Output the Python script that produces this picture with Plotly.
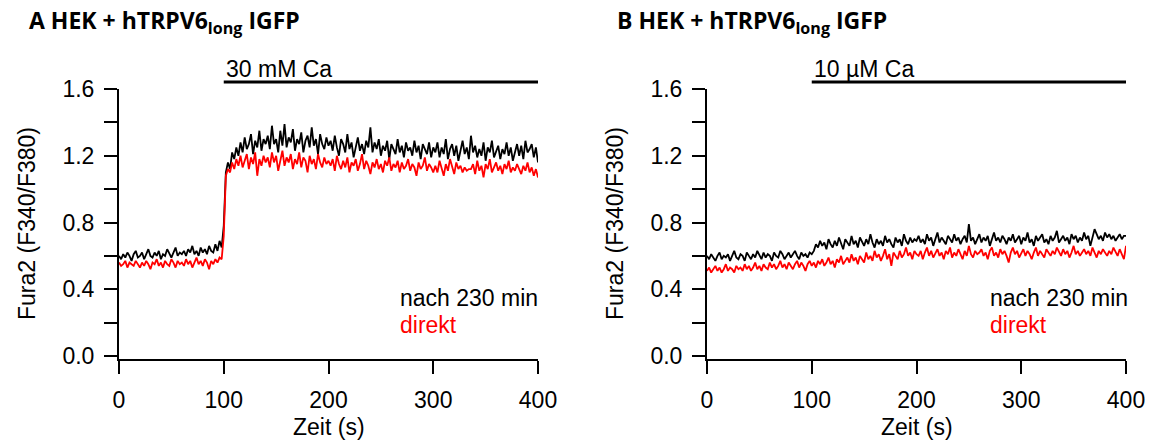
import plotly.graph_objects as go

# ---------------- data ----------------
dt = 2  # s between samples

a_nach = [
    0.60,0.58,0.61,0.59,0.62,0.60,0.57,0.61,0.63,0.59,
    0.60,0.62,0.58,0.61,0.64,0.60,0.59,0.62,0.60,0.63,
    0.58,0.61,0.60,0.64,0.61,0.59,0.62,0.65,0.60,0.62,
    0.61,0.63,0.60,0.64,0.62,0.66,0.61,0.63,0.60,0.65,
    0.62,0.64,0.61,0.66,0.63,0.62,0.67,0.63,0.69,0.65,
    0.78,1.10,1.16,
    1.12,1.22,1.18,1.25,1.20,1.28,1.22,1.31,1.24,1.27,1.33,1.21,1.29,1.25,1.35,1.23,1.30,1.27,
    1.32,1.24,1.38,1.27,1.30,1.22,1.35,1.26,1.39,1.25,
    1.31,1.28,1.36,1.23,1.30,1.27,1.34,1.22,1.29,1.32,
    1.25,1.37,1.26,1.30,1.21,1.33,1.27,1.24,1.31,1.26,
    1.29,1.23,1.32,1.25,1.20,1.30,1.27,1.22,1.33,1.24,
    1.28,1.19,1.26,1.31,1.23,1.27,1.21,1.29,1.25,1.37,
    1.22,1.28,1.24,1.30,1.20,1.26,1.23,1.29,1.18,1.27,
    1.24,1.21,1.30,1.22,1.26,1.19,1.28,1.23,1.25,1.20,
    1.29,1.22,1.26,1.18,1.27,1.24,1.21,1.28,1.19,1.25,
    1.22,1.28,1.19,1.25,1.21,1.30,1.18,1.24,1.27,1.20,
    1.26,1.17,1.23,1.29,1.21,1.25,1.18,1.32,1.22,1.26,
    1.19,1.24,1.20,1.28,1.17,1.25,1.22,1.29,1.19,1.23,
    1.26,1.18,1.24,1.21,1.28,1.20,1.25,1.17,1.23,1.27,
    1.20,1.26,1.18,1.29,1.22,1.24,1.27,1.19,1.25,1.16,
]

a_direkt = [
    0.56,0.54,0.55,0.57,0.53,0.56,0.55,0.54,0.57,0.55,
    0.53,0.56,0.54,0.57,0.55,0.52,0.56,0.55,0.58,0.54,
    0.56,0.53,0.57,0.55,0.54,0.58,0.56,0.53,0.57,0.55,
    0.56,0.54,0.58,0.55,0.57,0.53,0.56,0.59,0.55,0.57,
    0.54,0.58,0.56,0.52,0.57,0.55,0.58,0.56,0.59,0.58,
    0.72,1.08,1.12,
    1.10,1.16,1.12,1.18,1.14,1.20,1.13,1.17,1.21,1.12,1.19,1.15,1.22,1.08,1.18,1.14,1.20,1.16,
    1.19,1.13,1.22,1.16,1.20,1.11,1.18,1.23,1.14,1.19,
    1.16,1.21,1.12,1.18,1.15,1.22,1.13,1.19,1.17,1.10,
    1.20,1.15,1.18,1.12,1.21,1.16,1.13,1.19,1.15,1.17,
    1.14,1.18,1.11,1.20,1.15,1.12,1.17,1.13,1.19,1.10,
    1.16,1.14,1.18,1.11,1.15,1.21,1.12,1.17,1.14,1.09,
    1.16,1.13,1.18,1.12,1.15,1.10,1.17,1.14,1.19,1.11,
    1.15,1.13,1.17,1.10,1.16,1.12,1.14,1.18,1.11,1.15,
    1.13,1.08,1.16,1.12,1.14,1.19,1.11,1.15,1.13,1.10,
    1.14,1.10,1.17,1.12,1.08,1.15,1.11,1.18,1.13,1.09,
    1.16,1.12,1.14,1.10,1.13,1.11,1.12,1.12,1.15,1.09,
    1.17,1.11,1.14,1.07,1.15,1.12,1.18,1.10,1.13,1.16,
    1.11,1.14,1.09,1.15,1.12,1.17,1.10,1.13,1.11,1.15,
    1.12,1.09,1.14,1.11,1.16,1.10,1.13,1.08,1.12,1.07,
]

b_nach = [
    0.60,0.58,0.61,0.59,0.57,0.60,0.62,0.58,0.60,0.59,
    0.61,0.57,0.60,0.63,0.59,0.58,0.61,0.60,0.57,0.62,
    0.60,0.58,0.61,0.59,0.63,0.60,0.58,0.62,0.59,0.61,
    0.60,0.57,0.62,0.60,0.59,0.63,0.61,0.58,0.60,0.62,
    0.59,0.61,0.63,0.60,0.58,0.62,0.60,0.61,0.59,0.62,
    0.61,0.63,0.67,0.65,0.69,0.66,0.68,0.64,0.70,0.67,
    0.65,0.69,0.66,0.71,0.67,0.64,0.70,0.68,0.66,0.72,
    0.67,0.69,0.65,0.71,0.68,0.66,0.70,0.67,0.73,0.68,
    0.65,0.70,0.67,0.69,0.66,0.72,0.68,0.70,0.67,0.65,
    0.71,0.68,0.70,0.66,0.73,0.69,0.67,0.71,0.68,0.70,
    0.69,
    0.72,0.68,0.70,0.67,0.73,0.69,0.71,0.66,0.70,0.74,
    0.68,0.71,0.69,0.67,0.72,0.70,0.68,0.73,0.69,0.71,
    0.67,0.70,0.72,0.68,0.79,0.69,0.71,0.67,0.70,0.73,
    0.68,0.71,0.69,0.72,0.66,0.70,0.74,0.69,0.71,0.68,
    0.72,0.70,0.67,0.71,0.69,0.73,0.68,0.70,0.72,0.67,
    0.71,0.69,0.74,0.68,0.70,0.66,0.72,0.69,0.71,0.73,
    0.68,0.70,0.67,0.72,0.69,0.71,0.75,0.68,0.70,0.72,
    0.69,0.71,0.67,0.73,0.70,0.72,0.68,0.71,0.69,0.74,
    0.70,0.72,0.66,0.71,0.76,0.73,0.70,0.72,0.69,0.74,
    0.71,0.73,0.70,0.72,0.69,0.71,0.73,0.70,0.72,0.72,
]

b_direkt = [
    0.51,0.53,0.50,0.52,0.54,0.51,0.53,0.50,0.52,0.55,
    0.51,0.53,0.52,0.50,0.54,0.52,0.53,0.51,0.55,0.52,
    0.54,0.51,0.53,0.56,0.52,0.54,0.51,0.55,0.53,0.52,
    0.56,0.53,0.55,0.52,0.54,0.57,0.53,0.55,0.52,0.56,
    0.54,0.52,0.55,0.57,0.53,0.56,0.54,0.51,0.55,0.57,
    0.54,0.56,0.53,0.57,0.55,0.58,0.54,0.56,0.59,0.55,
    0.57,0.53,0.58,0.56,0.60,0.55,0.57,0.59,0.56,0.61,
    0.57,0.59,0.55,0.60,0.58,0.56,0.62,0.58,0.60,0.57,
    0.63,0.59,0.61,0.57,0.60,0.64,0.58,0.61,0.54,0.62,
    0.60,0.58,0.63,0.59,0.61,0.65,0.60,0.62,0.58,0.63,
    0.61,
    0.60,0.63,0.58,0.62,0.65,0.60,0.63,0.59,0.62,0.64,
    0.60,0.62,0.58,0.63,0.61,0.65,0.59,0.62,0.60,0.64,
    0.61,0.58,0.63,0.60,0.66,0.61,0.59,0.63,0.61,0.62,
    0.64,0.60,0.62,0.58,0.63,0.65,0.60,0.62,0.59,0.64,
    0.61,0.63,0.60,0.56,0.62,0.65,0.61,0.63,0.59,0.62,
    0.64,0.60,0.63,0.61,0.58,0.62,0.65,0.60,0.63,0.61,
    0.59,0.64,0.62,0.60,0.63,0.61,0.65,0.62,0.60,0.64,
    0.61,0.63,0.59,0.62,0.66,0.61,0.63,0.60,0.62,0.64,
    0.61,0.63,0.60,0.65,0.62,0.59,0.63,0.61,0.64,0.62,
    0.60,0.63,0.61,0.65,0.62,0.60,0.64,0.61,0.58,0.66,
]

panel_titles = ["A HEK + hTRPV6<sub>long</sub> IGFP", "B HEK + hTRPV6<sub>long</sub> IGFP"]
stim_labels = ["30 mM Ca", "10 µM Ca"]
stim_window = [100, 400]
series_names = ["nach 230 min", "direkt"]
series_colors = ["black", "red"]
x_ticks = [0, 100, 200, 300, 400]
y_major_step = 0.4
y_minor_step = 0.2
x_title = "Zeit (s)"
y_title = "Fura2 (F340/F380)"

# ---------------- figure ----------------
W, H = 1151, 441
FONT = "Liberation Sans"
FS = 23
fig = go.Figure()

panels = [(a_nach, a_direkt), (b_nach, b_direkt)]
for p, (nach, direkt) in enumerate(panels):
    xa = "x" if p == 0 else "x2"
    ya = "y" if p == 0 else "y2"
    for vals, name, col in zip((nach, direkt), series_names, series_colors):
        t = [i * dt for i in range(len(vals))]
        fig.add_trace(go.Scatter(x=t, y=vals, mode="lines", name=name,
                                 line=dict(color=col, width=1.8),
                                 xaxis=xa, yaxis=ya, showlegend=False))

px = lambda v: v / W
py = lambda v: 1 - v / H

x_dom = [[px(119), px(538)], [px(707), px(1126)]]
y_dom = [py(359), py(89)]

axis_common = dict(showline=True, linecolor="black", linewidth=2,
                   ticks="outside", ticklen=13, tickwidth=2, tickcolor="black",
                   showgrid=False, zeroline=False, automargin=False,
                   tickfont=dict(family=FONT, size=FS, color="black"))

for p in range(2):
    sfx = "" if p == 0 else "2"
    fig.layout["xaxis" + sfx] = dict(domain=x_dom[p], range=[0, 400], tickvals=x_ticks,
                                     anchor="y" + sfx, ticklabelstandoff=6, **axis_common)
    fig.layout["yaxis" + sfx] = dict(domain=y_dom, range=[-0.018, 1.6], tick0=0,
                                     dtick=y_major_step, tickformat=".1f",
                                     minor=dict(dtick=y_minor_step, tick0=0, ticks="outside",
                                                ticklen=13, tickwidth=2, tickcolor="black",
                                                showgrid=False),
                                     anchor="x" + sfx, ticklabelstandoff=5, **axis_common)

ann = []
shapes = []
title_x = [27, 615]
ylab_x = [27, 615]
leg_x = [398, 988]
for p in range(2):
    sfx = "" if p == 0 else "2"
    ann.append(dict(text="<b>" + panel_titles[p] + "</b>", x=px(title_x[p]), y=py(22),
                    xref="paper", yref="paper", xanchor="left", yanchor="middle",
                    showarrow=False, font=dict(family="Open Sans", size=23, color="black")))
    ann.append(dict(text=stim_labels[p], x=stim_window[0], y=py(69), xref="x" + sfx, yref="paper",
                    xanchor="left", yanchor="middle", showarrow=False,
                    font=dict(family=FONT, size=FS, color="black")))
    shapes.append(dict(type="line", x0=stim_window[0], x1=stim_window[1], y0=py(82), y1=py(82),
                       xref="x" + sfx, yref="paper", line=dict(color="black", width=3)))
    ann.append(dict(text=y_title, x=px(ylab_x[p]), y=py(224), xref="paper", yref="paper",
                    textangle=-90, xanchor="center", yanchor="middle", showarrow=False,
                    font=dict(family=FONT, size=FS, color="black")))
    ann.append(dict(text=x_title, x=200, y=py(427), xref="x" + sfx, yref="paper",
                    xanchor="center", yanchor="middle", showarrow=False,
                    font=dict(family=FONT, size=FS, color="black")))
    for k, (nm, col) in enumerate(zip(series_names, series_colors)):
        ann.append(dict(text=nm, x=px(leg_x[p]), y=py(298 + 27 * k), xref="paper", yref="paper",
                        xanchor="left", yanchor="middle", showarrow=False,
                        font=dict(family=FONT, size=FS, color=col)))

fig.update_layout(width=W, height=H,
                  margin=dict(l=0, r=0, t=0, b=0, pad=0, autoexpand=False),
                  paper_bgcolor="white", plot_bgcolor="white",
                  annotations=ann, shapes=shapes)

fig.write_html("out.html")
